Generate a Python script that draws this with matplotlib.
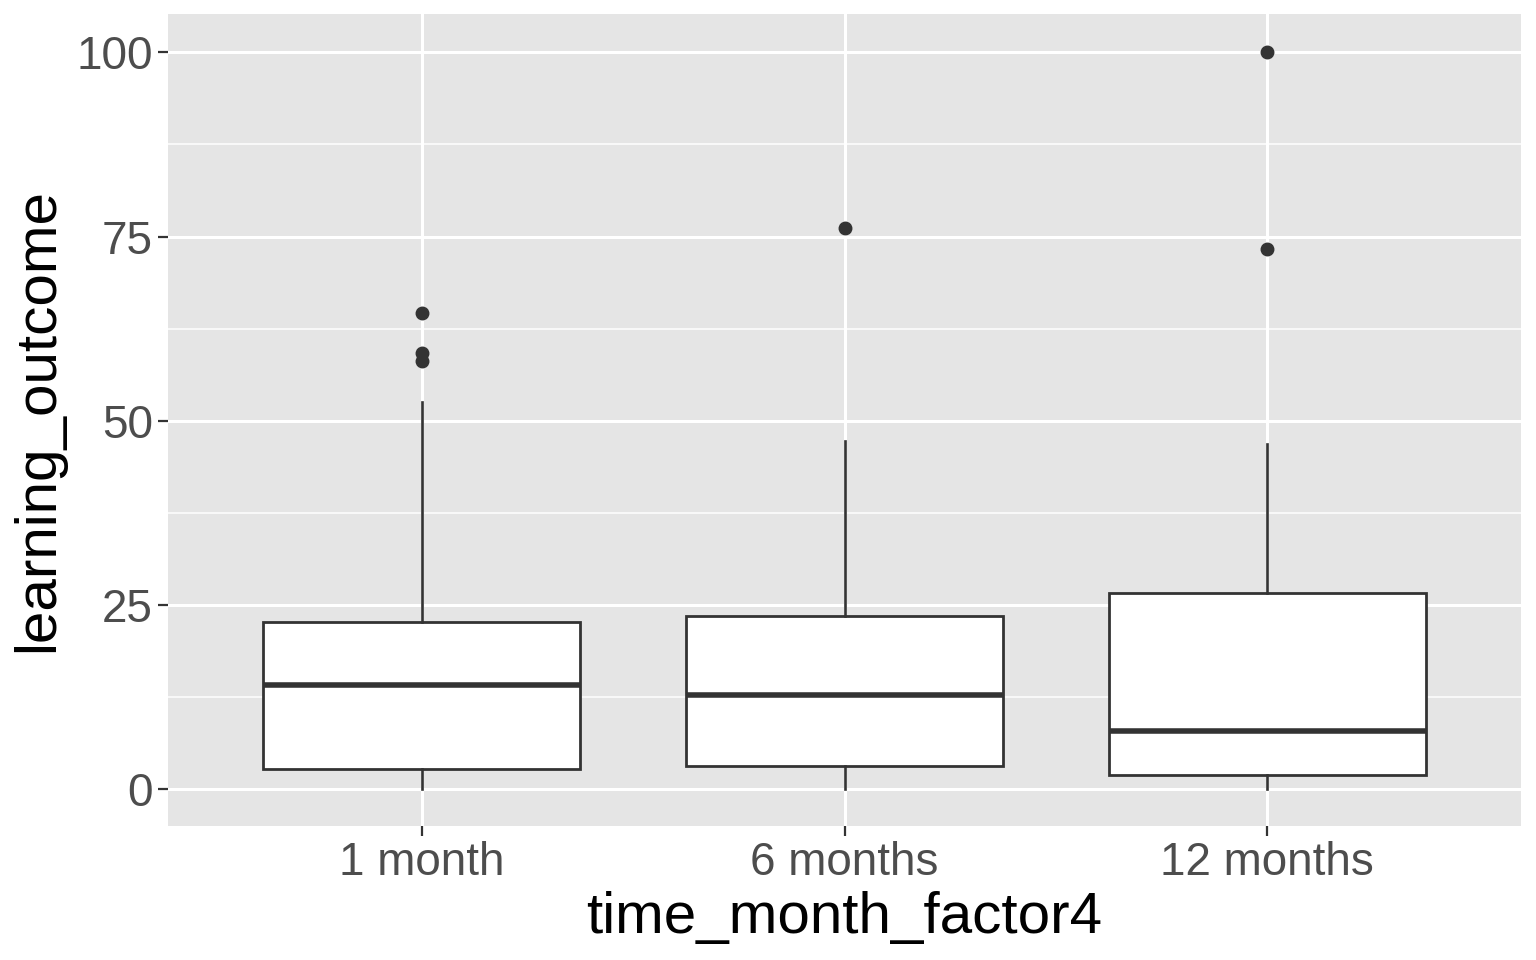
import matplotlib
matplotlib.use("Agg")
import matplotlib.pyplot as plt
from matplotlib.ticker import MultipleLocator

# summary values
groups = ["1 month", "6 months", "12 months"]
whisker_low = [0.0, 0.0, 0.0]
q1 = [2.7, 3.1, 1.9]
medians = [14.1, 12.75, 7.9]
q3 = [22.7, 23.5, 26.6]
whisker_high = [52.5, 47.2, 46.9]
outliers = [[64.6, 59.2, 58.1], [76.1], [100.0, 73.3]]

plt.rcParams['font.family'] = ['Liberation Sans', 'DejaVu Sans']

fig = plt.figure(figsize=(15.36, 9.6), dpi=100)
ax = fig.add_axes([168/1536, 1 - 826/960, (1521 - 168)/1536, (826 - 14)/960])
ax.set_facecolor('#E5E5E5')

stats = []
for i in range(len(groups)):
    stats.append(dict(med=medians[i], q1=q1[i], q3=q3[i],
                      whislo=whisker_low[i], whishi=whisker_high[i],
                      fliers=outliers[i], label=groups[i]))

dark = '#333333'
ax.bxp(stats, positions=[1, 2, 3], widths=0.75, patch_artist=True, showcaps=False,
       boxprops=dict(facecolor='white', edgecolor=dark, linewidth=2.0),
       whiskerprops=dict(color=dark, linewidth=1.9),
       medianprops=dict(color=dark, linewidth=4.0),
       flierprops=dict(marker='o', markerfacecolor=dark, markeredgecolor=dark, markersize=9),
       zorder=3)

ax.set_xlim(0.4, 3.6)
ax.set_ylim(-5, 105.2)
ax.yaxis.set_major_locator(MultipleLocator(25))
ax.yaxis.set_minor_locator(MultipleLocator(12.5))
ax.grid(which='major', color='white', linewidth=2.2, zorder=0)
ax.grid(which='minor', axis='y', color='white', linewidth=1.1, zorder=0)
ax.set_axisbelow(True)
for s in ax.spines.values():
    s.set_visible(False)

ax.tick_params(which='major', length=7, width=1.6, color=dark, labelsize=33,
               labelcolor='#4D4D4D', pad=4)
ax.tick_params(which='minor', length=0)
ax.set_xticks([1, 2, 3])
ax.set_xticklabels(groups)

ax.set_xlabel('time_month_factor4', fontsize=42, color='black', labelpad=4)
ax.set_ylabel('learning_outcome', fontsize=42, color='black', labelpad=8)

fig.savefig('out.png', dpi=100)
